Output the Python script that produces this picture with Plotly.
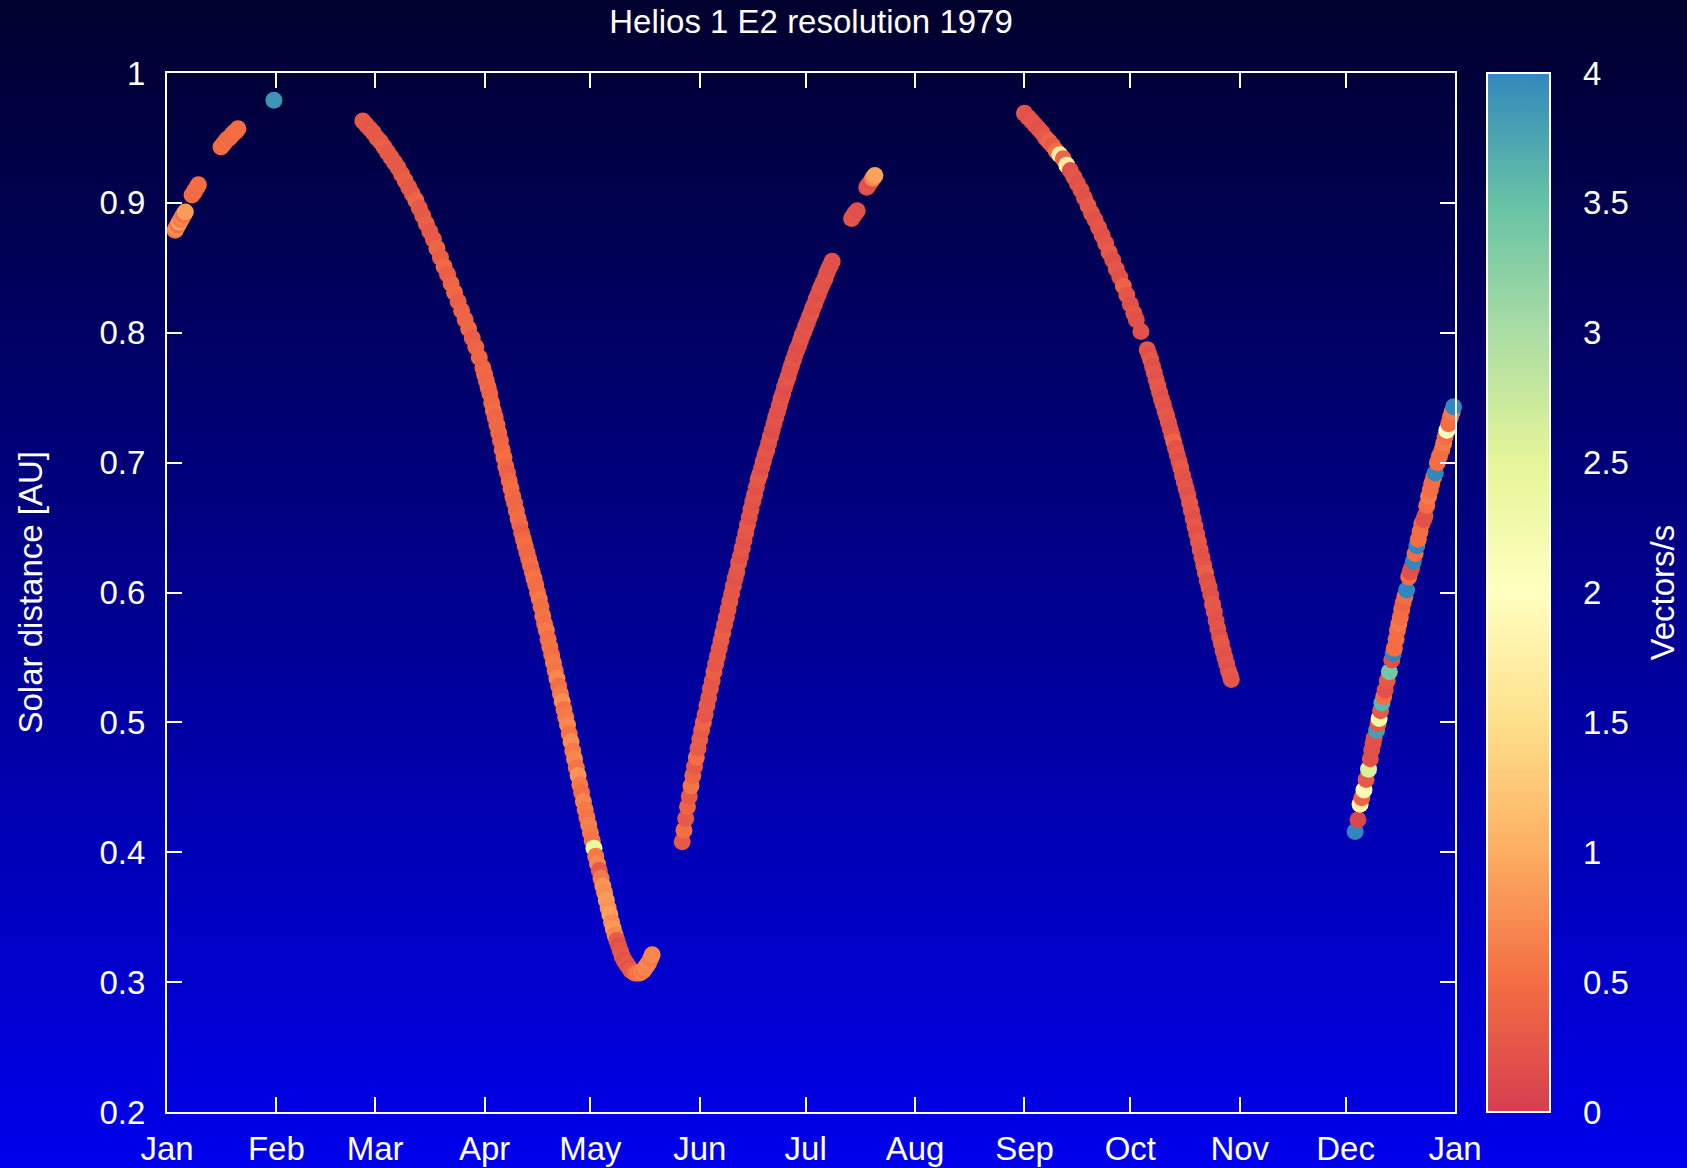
import base64
import struct
import zlib

import pandas as pd
import plotly.graph_objects as go

FONT = "Liberation Sans, Arial, sans-serif"

# ---------------- data (days since 1979-01-01, solar distance AU, vectors/s) -------------
jan_day = [2.3, 2.7, 3.1, 3.5, 3.9, 4.3, 4.7, 5.2,
           7.1, 7.6, 8.0, 8.5, 8.9,
           15.3, 15.9, 16.5, 17.1, 17.7, 18.3, 18.9, 19.5, 20.1,
           30.3]
jan_au = [0.879, 0.881, 0.883, 0.885, 0.887, 0.889, 0.891, 0.893,
          0.906, 0.908, 0.910, 0.912, 0.914,
          0.943, 0.945, 0.947, 0.949, 0.950, 0.952, 0.954, 0.955, 0.957,
          0.979]
jan_rate = [0.6, 0.8, 0.5, 0.9, 0.6, 0.7, 0.5, 0.85,
            0.5, 0.45, 0.5, 0.45, 0.5,
            0.45, 0.5, 0.45, 0.5, 0.45, 0.5, 0.45, 0.5, 0.5,
            3.9]

spring_day = [55.5, 56.5, 57.5, 58.5, 59.5, 60.5, 61.5, 62.5, 63.5, 64.5,
              65.5, 66.5, 67.5, 68.5, 69.5, 70.5, 71.5, 72.5, 73.5, 74.5,
              75.5, 76.5, 77.5, 78.5, 79.5, 80.5, 81.5, 82.5, 83.5, 84.5,
              85.5, 86.5, 87.5, 88.5, 89.5,
              90.0, 90.5, 91.0, 91.5, 92.0, 92.5, 93.0, 93.5, 94.0, 94.5,
              95.0, 95.5, 96.0, 96.5, 97.0, 97.5, 98.0, 98.5, 99.0, 99.5,
              100.0, 100.5, 101.0, 101.5, 102.0, 102.5, 103.0, 103.5, 104.0, 104.5,
              105.0, 105.5, 106.0, 106.5, 107.0, 107.5, 108.0, 108.5, 109.0, 109.5,
              110.0, 110.5, 111.0, 111.5, 112.0, 112.5, 113.0, 113.5, 114.0, 114.5,
              115.0, 115.5, 116.0, 116.5, 117.0, 117.5, 118.0, 118.5, 119.0, 119.5,
              120.0, 120.5, 121.0, 121.5, 122.0, 122.5, 123.0, 123.5, 124.0, 124.5,
              125.0, 125.5, 126.0, 126.5, 127.0, 127.5, 128.0, 128.5, 129.0, 129.5,
              130.0, 130.5, 131.0, 131.5, 132.0, 132.5, 133.0, 133.5, 134.0, 134.5,
              135.0, 135.5, 136.0, 136.5, 137.0, 137.5]
spring_au = [0.963, 0.960, 0.957, 0.954, 0.950, 0.947, 0.943, 0.939, 0.935, 0.931,
             0.927, 0.922, 0.917, 0.912, 0.907, 0.902, 0.896, 0.890, 0.884, 0.878,
             0.872, 0.865, 0.858, 0.851, 0.845, 0.838, 0.831, 0.824, 0.817, 0.810,
             0.803, 0.796, 0.789, 0.781, 0.773,
             0.768, 0.763, 0.758, 0.753, 0.746, 0.740, 0.735, 0.729, 0.723, 0.717,
             0.710, 0.704, 0.697, 0.692, 0.686, 0.680, 0.674, 0.669, 0.663, 0.657,
             0.652, 0.646, 0.641, 0.636, 0.631, 0.626, 0.621, 0.616, 0.611, 0.606,
             0.600, 0.595, 0.589, 0.582, 0.576, 0.571, 0.564, 0.558, 0.552, 0.546,
             0.540, 0.534, 0.528, 0.522, 0.516, 0.510, 0.504, 0.498, 0.491, 0.485,
             0.478, 0.472, 0.465, 0.459, 0.452, 0.446, 0.439, 0.433, 0.427, 0.421,
             0.415, 0.409, 0.403, 0.397, 0.391, 0.386, 0.380, 0.374, 0.369, 0.363,
             0.357, 0.352, 0.346, 0.341, 0.336, 0.332, 0.328, 0.324, 0.320, 0.317,
             0.315, 0.313, 0.311, 0.309, 0.308, 0.307, 0.307, 0.307, 0.307, 0.308,
             0.309, 0.311, 0.313, 0.315, 0.318, 0.321]
spring_rate = [0.3, 0.3, 0.25, 0.3, 0.3, 0.3, 0.35, 0.3, 0.3, 0.3,
               0.3, 0.3, 0.35, 0.3, 0.3, 0.4, 0.3, 0.3, 0.35, 0.3,
               0.3, 0.4, 0.35, 0.45, 0.35, 0.4, 0.45, 0.35, 0.4, 0.4,
               0.45, 0.35, 0.4, 0.45, 0.4,
               0.45, 0.4, 0.45, 0.4, 0.45, 0.5, 0.4, 0.45, 0.45, 0.4,
               0.45, 0.5, 0.45, 0.35, 0.45, 0.5, 0.45, 0.4, 0.45, 0.5,
               0.45, 0.35, 0.45, 0.5, 0.45, 0.45, 0.5, 0.45, 0.55, 0.5,
               0.5, 0.6, 0.5, 0.55, 0.5, 0.6, 0.5, 0.55, 0.5, 0.6,
               0.55, 0.7, 0.5, 0.6, 0.75, 0.55, 0.6, 0.7, 0.55, 0.75,
               0.6, 0.7, 0.55, 0.8, 0.6, 0.5, 0.7, 0.6, 0.55, 0.65,
               0.6, 0.55, 2.4, 0.6, 0.7, 0.3, 0.6, 0.8, 0.75, 0.85,
               0.8, 0.9, 0.75, 0.85, 0.7, 0.3, 0.2, 0.25, 0.3, 0.2,
               0.25, 0.3, 0.2, 0.35, 0.3, 0.4, 0.5, 0.6, 0.55, 0.7,
               0.6, 0.7, 0.65, 0.7, 0.6, 0.7]

june_day = [146.0, 146.5, 147.0, 147.5, 148.0, 148.5, 149.0, 149.5, 150.0, 150.5,
            151.0, 151.5, 152.0, 152.5, 153.0, 153.5, 154.0, 154.5, 155.0, 155.5,
            156.0, 156.5, 157.0, 157.5, 158.0, 158.5, 159.0, 159.5, 160.0, 160.5,
            161.0, 161.5, 162.0, 162.5, 163.0, 163.5, 164.0, 164.5, 165.0, 165.5,
            166.0, 166.5, 167.0, 167.5, 168.0, 168.5, 169.0, 169.5, 170.0, 170.5,
            171.0, 171.5, 172.0, 172.5, 173.0, 173.5, 174.0, 174.5, 175.0, 175.5,
            176.0, 176.5, 177.0, 177.5, 178.0, 178.5, 179.0, 179.5, 180.0, 180.5,
            181.0, 181.5, 182.0, 182.5, 183.0, 183.5, 184.0, 184.5, 185.0, 185.5,
            186.0, 186.5, 187.0, 187.5, 188.0, 188.5]
june_au = [0.408, 0.417, 0.426, 0.435, 0.443, 0.451, 0.459, 0.466, 0.473, 0.480,
           0.487, 0.494, 0.500, 0.506, 0.513, 0.519, 0.526, 0.532, 0.539, 0.545,
           0.551, 0.557, 0.563, 0.569, 0.575, 0.581, 0.587, 0.593, 0.599, 0.605,
           0.611, 0.616, 0.623, 0.628, 0.634, 0.640, 0.646, 0.652, 0.658, 0.664,
           0.670, 0.675, 0.681, 0.687, 0.691, 0.696, 0.701, 0.706, 0.710, 0.715,
           0.720, 0.725, 0.730, 0.735, 0.739, 0.744, 0.749, 0.753, 0.758, 0.762,
           0.766, 0.771, 0.775, 0.779, 0.783, 0.787, 0.790, 0.794, 0.798, 0.801,
           0.805, 0.808, 0.812, 0.815, 0.819, 0.822, 0.826, 0.829, 0.833, 0.836,
           0.839, 0.842, 0.846, 0.849, 0.852, 0.855]
june_rate = [0.3, 0.5, 0.3, 0.4, 0.3, 0.55, 0.4, 0.3, 0.5, 0.3,
             0.35, 0.3, 0.4, 0.25, 0.3, 0.25, 0.3, 0.25, 0.35, 0.25,
             0.3, 0.25, 0.3, 0.35, 0.25, 0.3, 0.25, 0.3, 0.25, 0.25,
             0.2, 0.25, 0.3, 0.2, 0.25, 0.2, 0.25, 0.3, 0.2, 0.25,
             0.2, 0.25, 0.2, 0.25, 0.3, 0.2, 0.25, 0.2, 0.25, 0.2,
             0.25, 0.15, 0.2, 0.25, 0.2, 0.2, 0.25, 0.2, 0.15, 0.2,
             0.25, 0.2, 0.2, 0.25, 0.2, 0.2, 0.15, 0.2, 0.25, 0.2,
             0.25, 0.2, 0.2, 0.25, 0.2, 0.2, 0.25, 0.2, 0.2, 0.25,
             0.2, 0.2, 0.25, 0.2, 0.2, 0.2]

july_day = [194.0, 194.5, 195.0, 195.6, 198.3, 198.8, 199.4, 200.0, 200.6]
july_au = [0.888, 0.890, 0.892, 0.894, 0.912, 0.914, 0.916, 0.919, 0.921]
july_rate = [0.25, 0.2, 0.25, 0.2, 0.2, 0.25, 0.2, 0.7, 0.9]

autumn_day = [243.0, 244.0, 245.0, 246.0, 247.0, 248.0, 249.0, 250.0, 251.0, 252.0,
              253.0, 254.0, 255.0, 256.0, 257.0, 258.0, 259.0, 260.0, 261.0, 262.0,
              263.0, 264.0, 265.0, 266.0, 267.0, 268.0, 269.0, 270.0, 271.0, 272.0,
              273.0, 274.0, 274.7, 276.0,
              277.8, 278.3, 278.8, 279.3, 279.8, 280.3, 280.8, 281.3, 281.8, 282.3,
              282.8, 283.3, 283.8, 284.3, 284.8, 285.3, 285.8, 286.3, 286.8, 287.3,
              287.8, 288.3, 288.8, 289.3, 289.8, 290.3, 290.8, 291.3, 291.8, 292.3,
              292.8, 293.3, 293.8, 294.3, 294.8, 295.3, 295.8, 296.3, 296.8, 297.3,
              297.8, 298.3, 298.8, 299.3, 299.8, 300.3, 300.8, 301.3, 301.6]
autumn_au = [0.969, 0.966, 0.963, 0.960, 0.957, 0.954, 0.950, 0.947, 0.944, 0.940,
             0.937, 0.934, 0.929, 0.925, 0.920, 0.915, 0.910, 0.904, 0.898, 0.892,
             0.887, 0.881, 0.875, 0.869, 0.862, 0.856, 0.849, 0.843, 0.836, 0.829,
             0.822, 0.815, 0.810, 0.801,
             0.787, 0.783, 0.779, 0.774, 0.769, 0.764, 0.759, 0.754, 0.749, 0.745,
             0.740, 0.736, 0.731, 0.726, 0.721, 0.716, 0.711, 0.706, 0.701, 0.696,
             0.690, 0.685, 0.680, 0.675, 0.669, 0.663, 0.657, 0.651, 0.645, 0.639,
             0.633, 0.627, 0.621, 0.615, 0.609, 0.604, 0.598, 0.591, 0.585, 0.578,
             0.572, 0.566, 0.561, 0.555, 0.550, 0.545, 0.540, 0.536, 0.533]
autumn_rate = [0.25, 0.2, 0.25, 0.25, 0.2, 0.25, 0.3, 0.4, 0.3, 0.5,
               1.7, 0.4, 1.7, 0.2, 0.25, 0.2, 0.25, 0.2, 0.3, 0.25,
               0.2, 0.25, 0.2, 0.25, 0.3, 0.2, 0.25, 0.2, 0.4, 0.25,
               0.2, 0.25, 0.2, 0.2,
               0.25, 0.2, 0.3, 0.2, 0.25, 0.2, 0.3, 0.25, 0.2, 0.25,
               0.2, 0.3, 0.25, 0.2, 0.25, 0.4, 0.2, 0.25, 0.2, 0.3,
               0.25, 0.2, 0.25, 0.2, 0.3, 0.25, 0.2, 0.25, 0.2, 0.3,
               0.25, 0.2, 0.25, 0.35, 0.2, 0.25, 0.2, 0.3, 0.25, 0.2,
               0.25, 0.2, 0.3, 0.25, 0.2, 0.25, 0.2, 0.3, 0.25]

dec_day = [336.7, 337.5, 338.1, 338.6, 339.2, 339.8, 340.5, 341.0, 341.4, 341.8,
           342.1, 342.8, 343.2, 343.5, 343.9, 344.3, 344.8, 345.2, 345.8, 346.4,
           347.1, 347.5, 347.8, 348.3, 348.7, 349.1, 349.5, 349.9, 350.3, 350.8,
           351.3, 351.9, 352.3, 352.7, 353.2, 353.7, 354.2, 354.6, 355.1, 355.6,
           356.1, 356.5, 357.0, 357.5, 358.0, 358.4, 359.0, 359.4, 360.0, 360.6,
           361.3, 361.8, 362.2, 362.7, 363.2, 363.7, 364.2, 364.6]
dec_au = [0.416, 0.425, 0.437, 0.442, 0.448, 0.456, 0.464, 0.472, 0.479, 0.484,
          0.488, 0.494, 0.499, 0.503, 0.509, 0.515, 0.520, 0.525, 0.532, 0.539,
          0.548, 0.553, 0.557, 0.564, 0.571, 0.576, 0.581, 0.587, 0.592, 0.597,
          0.602, 0.612, 0.616, 0.619, 0.624, 0.630, 0.636, 0.641, 0.647, 0.653,
          0.656, 0.659, 0.667, 0.674, 0.679, 0.684, 0.689, 0.692, 0.700, 0.705,
          0.710, 0.715, 0.720, 0.725, 0.730, 0.735, 0.739, 0.743]
dec_rate = [4.0, 0.1, 1.8, 0.4, 1.9, 0.3, 2.6, 0.2, 0.2, 0.2,
            0.2, 3.8, 0.3, 2.3, 0.3, 3.6, 0.5, 0.2, 0.3, 3.4,
            0.2, 4.0, 0.5, 0.5, 0.5, 0.6, 0.5, 0.5, 0.4, 0.5,
            4.0, 0.5, 0.2, 0.2, 4.0, 0.5, 4.0, 0.5, 0.5, 0.5,
            0.2, 0.2, 0.5, 0.6, 0.5, 0.5, 0.5, 4.0, 0.5, 0.5,
            0.5, 0.6, 0.5, 2.0, 0.5, 0.5, 0.6, 4.0]

month_start = "1979-01-01"
year_end = "1980-01-01"
cbar_ticks = [0, 0.5, 1, 1.5, 2, 2.5, 3, 3.5, 4]

spectral = [[0.0, "#d53e4f"], [0.125, "#f46d43"], [0.25, "#fdae61"], [0.375, "#fee08b"],
            [0.5, "#ffffbf"], [0.625, "#e6f598"], [0.75, "#abdda4"], [0.875, "#66c2a5"],
            [1.0, "#3288bd"]]

# ---------------- assemble ----------------
days = jan_day + spring_day + june_day + july_day + autumn_day + dec_day
au = jan_au + spring_au + june_au + july_au + autumn_au + dec_au
rate = jan_rate + spring_rate + june_rate + july_rate + autumn_rate + dec_rate
dates = pd.Timestamp(month_start) + pd.to_timedelta(days, unit="D")

# ---------------- geometry ----------------
W, H = 1687, 1168
L, R, T, B = 167, 232, 73, 56
PW, PH = W - L - R, H - T - B
CB_LEFT = 1487
CB_TH = 63
TICK = 15
BG_TOP = (0, 0, 45)
BG_BOT = (0, 0, 236)


def gradient_png(h, top, bot):
    w = 2
    raw = b""
    for i in range(h):
        t = i / (h - 1)
        px = bytes(int(round(top[k] + (bot[k] - top[k]) * t)) for k in range(3))
        raw += b"\x00" + px * w

    def chunk(tag, data):
        return (struct.pack(">I", len(data)) + tag + data
                + struct.pack(">I", zlib.crc32(tag + data) & 0xFFFFFFFF))

    png = (b"\x89PNG\r\n\x1a\n"
           + chunk(b"IHDR", struct.pack(">IIBBBBB", w, h, 8, 2, 0, 0, 0))
           + chunk(b"IDAT", zlib.compress(raw, 9))
           + chunk(b"IEND", b""))
    return "data:image/png;base64," + base64.b64encode(png).decode()


bg = gradient_png(H, BG_TOP, BG_BOT)

fig = go.Figure()
fig.add_trace(go.Scatter(
    x=dates, y=au, mode="markers", cliponaxis=False, showlegend=False,
    hoverinfo="skip",
    marker=dict(
        size=17, color=rate, colorscale=spectral, cmin=0, cmax=4,
        line=dict(width=0), opacity=1,
        colorbar=dict(
            x=(CB_LEFT - L) / PW, xanchor="left", xpad=0,
            y=0.5, yanchor="middle", len=1, lenmode="fraction", ypad=0,
            thickness=CB_TH, thicknessmode="pixels",
            outlinewidth=2, outlinecolor="white", borderwidth=0,
            tickmode="array", tickvals=cbar_ticks,
            ticktext=[f"{v:g}" for v in cbar_ticks],
            ticks="outside", ticklen=26, tickcolor="rgba(0,0,0,0)",
            tickfont=dict(family=FONT, size=33, color="white"),
        ),
    ),
))

shapes = []
for v in cbar_ticks:
    yy = v / 4
    for x0, x1 in ((CB_LEFT, CB_LEFT + TICK), (CB_LEFT + CB_TH - TICK, CB_LEFT + CB_TH)):
        shapes.append(dict(type="line", xref="paper", yref="paper",
                           x0=(x0 - L) / PW, x1=(x1 - L) / PW, y0=yy, y1=yy,
                           line=dict(color="white", width=2)))

axis_common = dict(
    showline=True, linecolor="white", linewidth=2, mirror="allticks",
    ticks="inside", ticklen=TICK, tickwidth=2, tickcolor="white",
    showgrid=False, zeroline=False,
    tickfont=dict(family=FONT, size=33, color="white"),
)

fig.update_layout(
    autosize=False,
    width=W, height=H,
    margin=dict(l=L, r=R, t=T, b=B, pad=0, autoexpand=False),
    paper_bgcolor="#00008a",
    plot_bgcolor="rgba(0,0,0,0)",
    font=dict(family=FONT, size=33, color="white"),
    title=dict(text="Helios 1 E2 resolution 1979", x=0.5, xref="paper", xanchor="center",
               y=1 - 21 / H, yref="container", yanchor="middle",
               font=dict(family=FONT, size=33, color="white")),
    xaxis=dict(range=[month_start, year_end], type="date", dtick="M1", tick0=month_start,
               tickformat="%b", ticklabelstandoff=6, **axis_common),
    yaxis=dict(range=[0.2, 1.0], dtick=0.1, tick0=0.2, ticklabelstandoff=13, **axis_common),
    images=[dict(source=bg, xref="paper", yref="paper", x=-L / PW, y=1 + T / PH,
                 sizex=W / PW, sizey=H / PH, xanchor="left", yanchor="top",
                 sizing="stretch", layer="below", opacity=1)],
    shapes=shapes,
    annotations=[
        dict(text="Solar distance [AU]", xref="paper", yref="paper",
             x=(30 - L) / PW, y=0.5, xanchor="center", yanchor="middle",
             textangle=-90, showarrow=False,
             font=dict(family=FONT, size=33, color="white")),
        dict(text="Vectors/s", xref="paper", yref="paper",
             x=(1662 - L) / PW, y=0.5, xanchor="center", yanchor="middle",
             textangle=-90, showarrow=False,
             font=dict(family=FONT, size=33, color="white")),
    ],
)

page_bg = "linear-gradient(rgb%s, rgb%s)" % (str(BG_TOP), str(BG_BOT))
fig.write_html(
    "out.html",
    config={"displayModeBar": False, "responsive": False},
    post_script="document.documentElement.style.margin='0px';"
                "document.body.style.margin='0px';"
                "document.body.style.overflow='hidden';"
                "document.documentElement.style.background='%s';" % page_bg,
)
